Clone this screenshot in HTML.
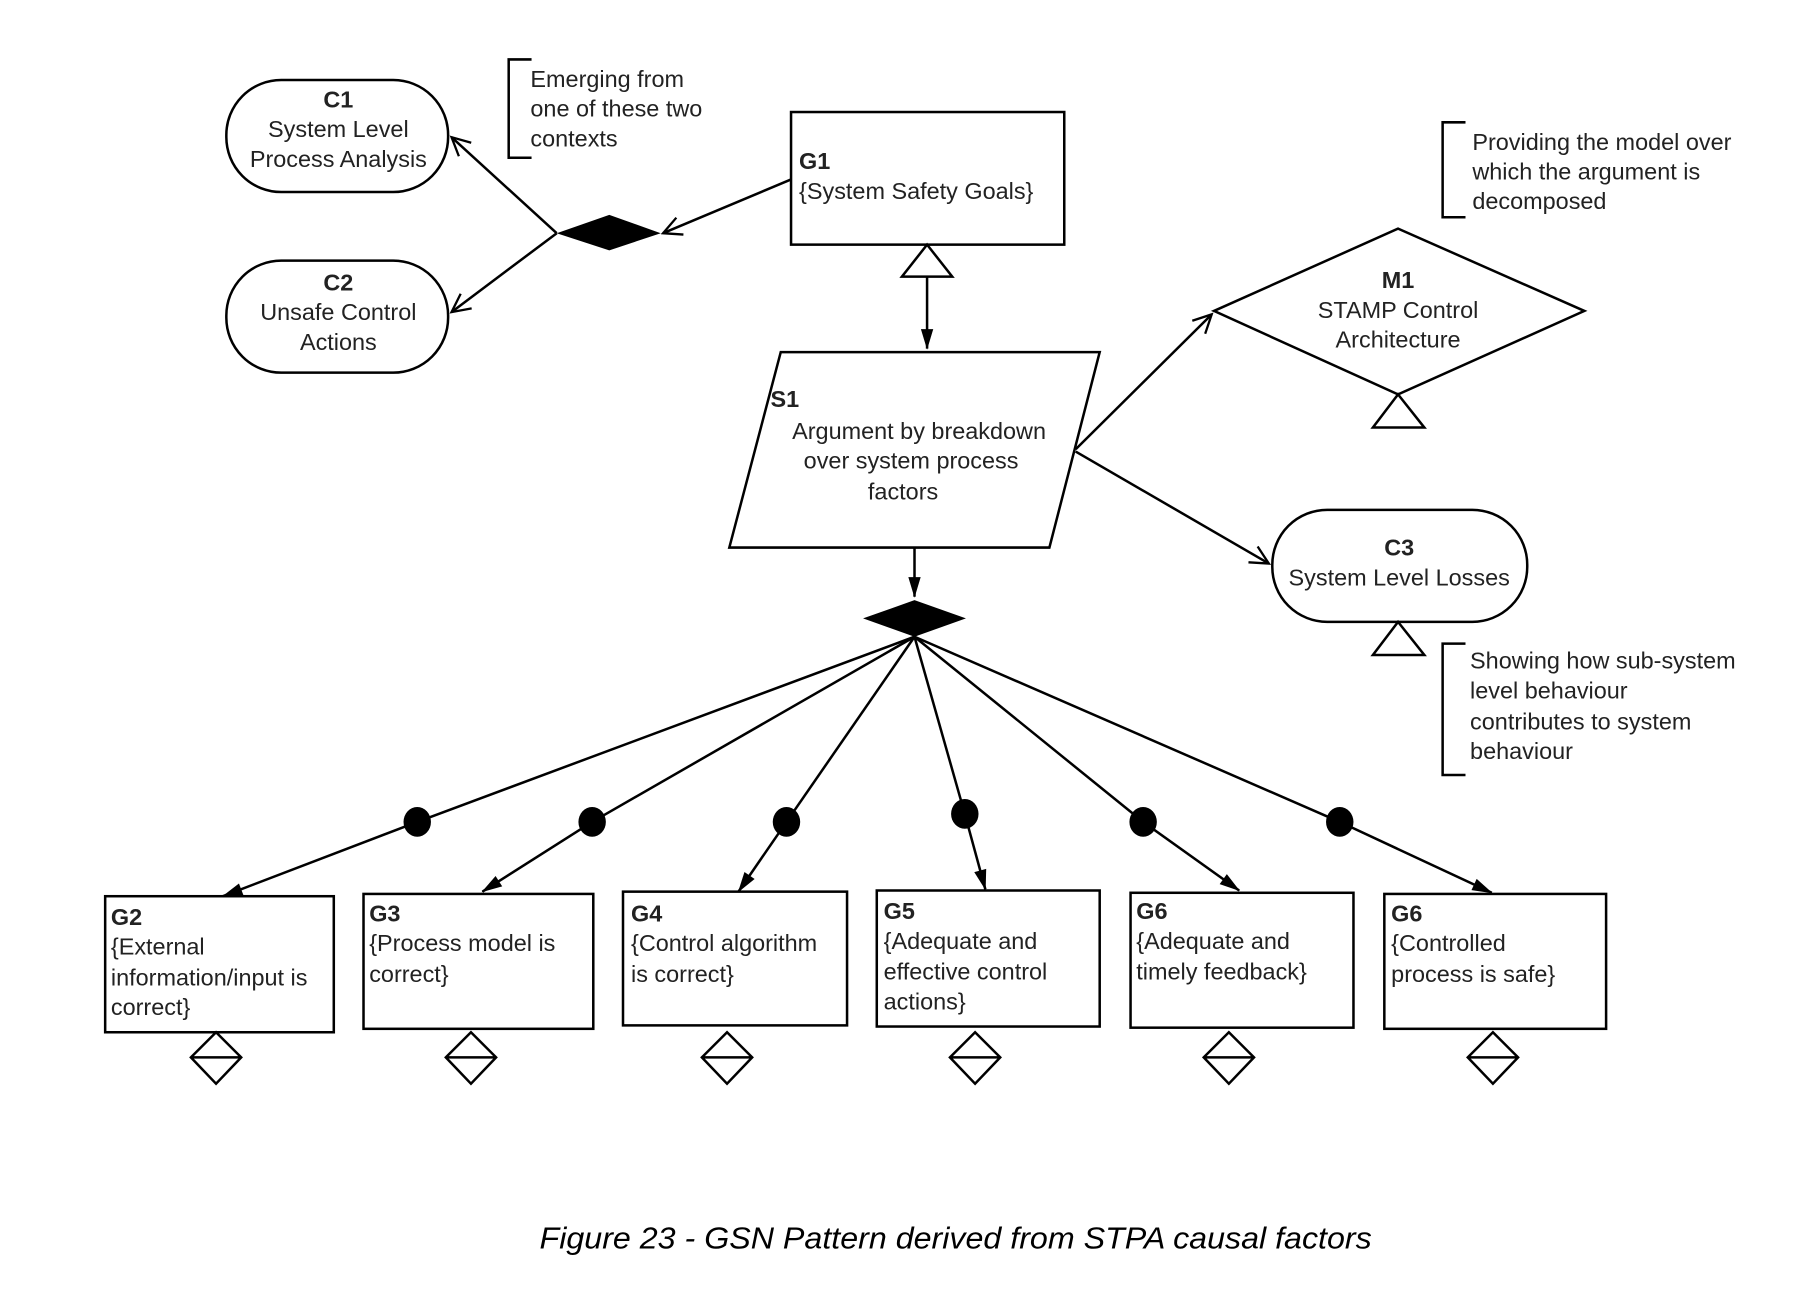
<!DOCTYPE html>
<html><head><meta charset="utf-8"><style>
html,body{margin:0;padding:0;background:#fff;}
svg{display:block;}
text{font-family:"Liberation Sans",Arial,sans-serif;font-size:20.5px;fill:#222;}
.b{font-weight:bold;}
.m{text-anchor:middle;}
</style></head><body>
<svg width="1793" height="1305" viewBox="0 0 1568.5 1141.6" preserveAspectRatio="none" xmlns="http://www.w3.org/2000/svg">
<defs>
<marker id="open" viewBox="0 0 20 20" refX="18" refY="10" markerWidth="20" markerHeight="20" markerUnits="userSpaceOnUse" orient="auto">
<path d="M2,2 L18,10 L2,18" fill="none" stroke="#000" stroke-width="2"/></marker>
<marker id="fill" viewBox="0 0 20 20" refX="19" refY="10" markerWidth="20" markerHeight="18" markerUnits="userSpaceOnUse" orient="auto">
<path d="M0,4 L20,10 L0,16 Z" fill="#000"/></marker>
</defs>
<g stroke="#000" stroke-width="2.2" fill="none">
<rect x="198" y="70" width="194" height="98" rx="48"/>
<rect x="198" y="228" width="194" height="98" rx="48"/>
<path d="M465,52 H445 V138 H465"/>
<path d="M1282,107 H1262 V190 H1282"/>
<path d="M1282,563 H1262 V678 H1282"/>
<rect x="692" y="98" width="239" height="116"/>
<path d="M692,157 L580,204" marker-end="url(#open)"/>
<path d="M487,204 L395,120" marker-end="url(#open)"/>
<path d="M487,204 L395,273" marker-end="url(#open)"/>
<path d="M811,214 L789,242 H833 Z" fill="#fff"/>
<path d="M811,242 V305" marker-end="url(#fill)"/>
<path d="M683,308 H962 L918,479 H638 Z"/>
<path d="M1223,200 L1386,272 L1223,345 L1062,272 Z"/>
<path d="M1223,345 L1201,374 H1246 Z"/>
<path d="M941,393 L1060,275" marker-end="url(#open)"/>
<path d="M941,395 L1110,493" marker-end="url(#open)"/>
<rect x="1113" y="446" width="223" height="98" rx="48"/>
<path d="M1223,544 L1201,573 H1246 Z"/>
<path d="M800,479 V522" marker-end="url(#fill)"/>
<path d="M800,557 L365,719"/><path d="M365,719 L195,784" marker-end="url(#fill)"/>
<path d="M800,557 L518,719"/><path d="M518,719 L422,780" marker-end="url(#fill)"/>
<path d="M800,557 L688,719"/><path d="M688,719 L646,780" marker-end="url(#fill)"/>
<path d="M800,557 L844,712"/><path d="M844,712 L862,778" marker-end="url(#fill)"/>
<path d="M800,557 L1000,719"/><path d="M1000,719 L1084,779" marker-end="url(#fill)"/>
<path d="M800,557 L1172,719"/><path d="M1172,719 L1305,781" marker-end="url(#fill)"/>
<rect x="92" y="784" width="200" height="119"/>
<rect x="318" y="782" width="201" height="118"/>
<rect x="545" y="780" width="196" height="117"/>
<rect x="767" y="779" width="195" height="119"/>
<rect x="989" y="781" width="195" height="118"/>
<rect x="1211" y="782" width="194" height="118"/>
<path d="M189,903 L211,925 L189,948 L167,925 Z M167,925 H211"/>
<path d="M412,903 L434,925 L412,948 L390,925 Z M390,925 H434"/>
<path d="M636,903 L658,925 L636,948 L614,925 Z M614,925 H658"/>
<path d="M853,903 L875,925 L853,948 L831,925 Z M831,925 H875"/>
<path d="M1075,903 L1097,925 L1075,948 L1053,925 Z M1053,925 H1097"/>
<path d="M1306,903 L1328,925 L1306,948 L1284,925 Z M1284,925 H1328"/>
</g>
<g fill="#000">
<path d="M487,204 L533,188 L578,204 L533,219 Z"/>
<path d="M755,541 L800,525 L845,541 L800,557 Z"/>
<ellipse cx="365" cy="719" rx="12" ry="13"/>
<ellipse cx="518" cy="719" rx="12" ry="13"/>
<ellipse cx="688" cy="719" rx="12" ry="13"/>
<ellipse cx="844" cy="712" rx="12" ry="13"/>
<ellipse cx="1000" cy="719" rx="12" ry="13"/>
<ellipse cx="1172" cy="719" rx="12" ry="13"/>
</g>
<text class="b m" x="296" y="94">C1</text>
<text class="m" x="296" y="120">System Level</text>
<text class="m" x="296" y="146">Process Analysis</text>
<text class="b m" x="296" y="254">C2</text>
<text class="m" x="296" y="280">Unsafe Control</text>
<text class="m" x="296" y="306">Actions</text>
<text x="464" y="76">Emerging from</text>
<text x="464" y="102">one of these two</text>
<text x="464" y="128">contexts</text>
<text class="b" x="699" y="148">G1</text>
<text x="699" y="174">{System Safety Goals}</text>
<text class="b" x="674" y="356">S1</text>
<text class="m" x="804" y="384">Argument by breakdown</text>
<text class="m" x="797" y="410">over system process</text>
<text class="m" x="790" y="437">factors</text>
<text class="b m" x="1223" y="252">M1</text>
<text class="m" x="1223" y="278">STAMP Control</text>
<text class="m" x="1223" y="304">Architecture</text>
<text class="b m" x="1224" y="486">C3</text>
<text class="m" x="1224" y="512">System Level Losses</text>
<text x="1288" y="131">Providing the model over</text>
<text x="1288" y="157">which the argument is</text>
<text x="1288" y="183">decomposed</text>
<text x="1286" y="585">Showing how sub-system</text>
<text x="1286" y="611">level behaviour</text>
<text x="1286" y="638">contributes to system</text>
<text x="1286" y="664">behaviour</text>
<text class="b" x="97" y="809">G2</text>
<text x="97" y="835">{External</text>
<text x="97" y="862">information/input is</text>
<text x="97" y="888">correct}</text>
<text class="b" x="323" y="806">G3</text>
<text x="323" y="832">{Process model is</text>
<text x="323" y="859">correct}</text>
<text class="b" x="552" y="806">G4</text>
<text x="552" y="832">{Control algorithm</text>
<text x="552" y="859">is correct}</text>
<text class="b" x="773" y="804">G5</text>
<text x="773" y="830">{Adequate and</text>
<text x="773" y="857">effective control</text>
<text x="773" y="883">actions}</text>
<text class="b" x="994" y="804">G6</text>
<text x="994" y="830">{Adequate and</text>
<text x="994" y="857">timely feedback}</text>
<text class="b" x="1217" y="806">G6</text>
<text x="1217" y="832">{Controlled</text>
<text x="1217" y="859">process is safe}</text>
<text x="472" y="1092" textLength="728" lengthAdjust="spacingAndGlyphs" style="font-style:italic;font-size:27px;fill:#000;">Figure 23 - GSN Pattern derived from STPA causal factors</text>
</svg>
</body></html>
